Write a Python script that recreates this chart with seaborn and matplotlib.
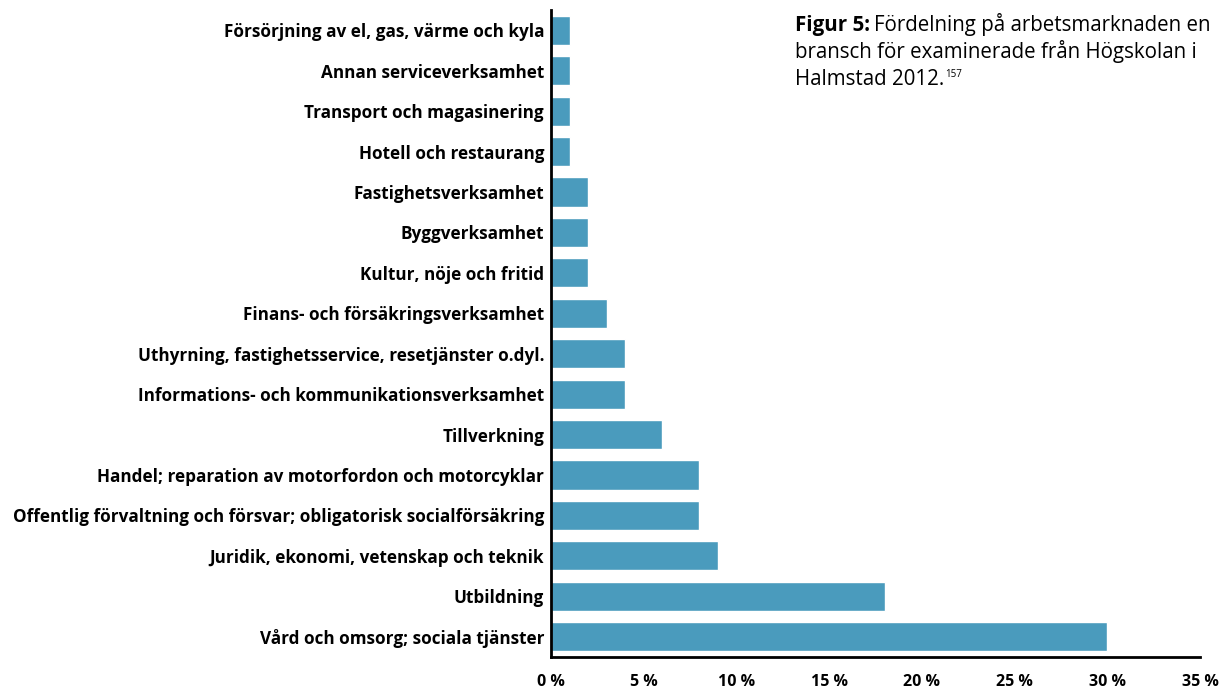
import matplotlib
matplotlib.use("Agg")
import matplotlib.pyplot as plt
import seaborn as sns
import pandas as pd

# Data (top to bottom)
branscher = [
    "Försörjning av el, gas, värme och kyla",
    "Annan serviceverksamhet",
    "Transport och magasinering",
    "Hotell och restaurang",
    "Fastighetsverksamhet",
    "Byggverksamhet",
    "Kultur, nöje och fritid",
    "Finans- och försäkringsverksamhet",
    "Uthyrning, fastighetsservice, resetjänster o.dyl.",
    "Informations- och kommunikationsverksamhet",
    "Tillverkning",
    "Handel; reparation av motorfordon och motorcyklar",
    "Offentlig förvaltning och försvar; obligatorisk socialförsäkring",
    "Juridik, ekonomi, vetenskap och teknik",
    "Utbildning",
    "Vård och omsorg; sociala tjänster",
]
andel = [1, 1, 1, 1, 2, 2, 2, 3, 4, 4, 6, 8, 8, 9, 18, 30]
x_ticks = [0, 5, 10, 15, 20, 25, 30, 35]
x_labels = ["0 %", "5 %", "10 %", "15 %", "20 %", "25 %", "30 %", "35 %"]

df = pd.DataFrame({"bransch": branscher, "andel": andel})

sns.set_theme(style="white")
plt.rcParams["font.family"] = ["Open Sans", "DejaVu Sans"]
plt.rcParams["text.color"] = "black"
plt.rcParams["xtick.color"] = "black"
plt.rcParams["ytick.color"] = "black"

fig = plt.figure(figsize=(12.21, 6.93), dpi=100)
ax = fig.add_axes([0.4513, 0.052, 0.5315, 0.9336])

sns.barplot(data=df, x="andel", y="bransch", orient="h", color="#4a9bbd",
            saturation=1, width=0.72, ax=ax)

ax.set_xlim(0, 35)
ax.set_ylim(15.5, -0.5)
ax.set_xticks(x_ticks)
ax.set_xticklabels(x_labels, fontsize=11.5, fontweight="bold", color="black")
ax.set_xlabel("")
ax.set_ylabel("")
for lbl in ax.get_yticklabels():
    lbl.set_fontsize(12.3)
    lbl.set_fontweight("bold")
    lbl.set_color("black")
ax.tick_params(axis="x", length=0, pad=12)
ax.tick_params(axis="y", length=0, pad=5)
sns.despine(ax=ax)
for side in ["left", "bottom"]:
    ax.spines[side].set_color("black")
    ax.spines[side].set_linewidth(2)

# Caption, bold prefix followed by regular text
fig.canvas.draw()
renderer = fig.canvas.get_renderer()
t1 = fig.text(795 / 1221, 1 - 31 / 693, "Figur 5:", fontsize=14.8,
              fontweight="bold", ha="left", va="baseline")
bb = t1.get_window_extent(renderer=renderer)
fig.text((bb.x1 + 4) / 1221, 1 - 31 / 693, "Fördelning på arbetsmarknaden en",
         fontsize=14.8, ha="left", va="baseline")
fig.text(795 / 1221, 1 - 58 / 693, "bransch för examinerade från Högskolan i",
         fontsize=14.8, ha="left", va="baseline")
t3 = fig.text(795 / 1221, 1 - 85 / 693, "Halmstad 2012.",
              fontsize=14.8, ha="left", va="baseline")
bb3 = t3.get_window_extent(renderer=renderer)
fig.text((bb3.x1 + 1) / 1221, 1 - 77 / 693, "157", fontsize=7,
         ha="left", va="baseline")

fig.savefig("out.png", dpi=100)
